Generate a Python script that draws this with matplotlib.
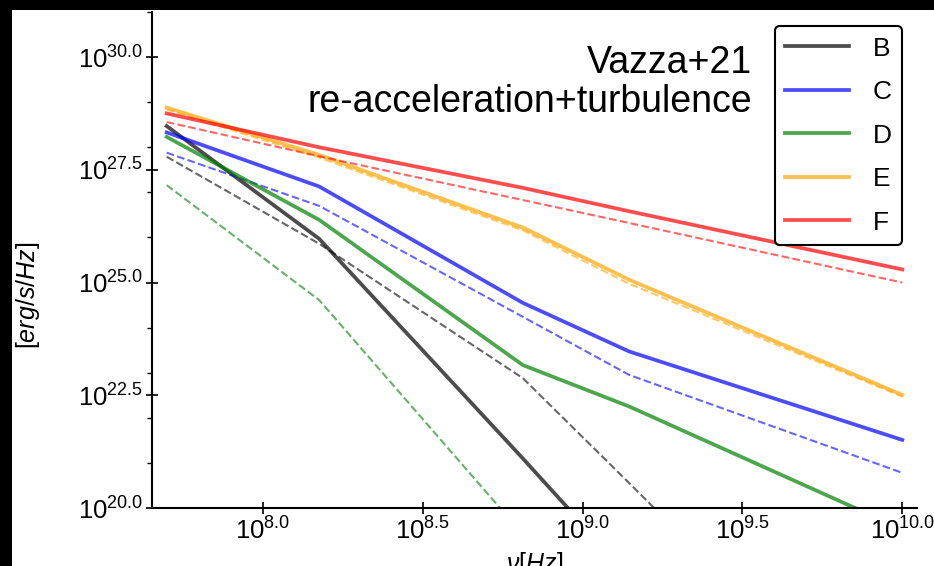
import numpy as np
import matplotlib
matplotlib.use("Agg")
import matplotlib.pyplot as plt
from matplotlib.ticker import MultipleLocator, FuncFormatter
from matplotlib.patches import Rectangle

plt.rcParams['font.family'] = ['Liberation Sans', 'DejaVu Sans']
plt.rcParams['mathtext.fontset'] = 'custom'
plt.rcParams['mathtext.rm'] = 'Liberation Sans'
plt.rcParams['mathtext.it'] = 'Liberation Sans:italic'

# observing frequencies [Hz]
freqs = [50e6, 150e6, 650e6, 1.4e9, 10e9]

# log10 radio power [erg/s/Hz], solid = re-acceleration+turbulence, dashed = re-acceleration only
labels = ['B', 'C', 'D', 'E', 'F']
colors = ['k', 'b', 'g', 'orange', 'r']

logL_solid = {
    'B': [28.47, 25.97, 21.10, 18.50, 12.00],
    'C': [28.33, 27.13, 24.55, 23.47, 21.51],
    'D': [28.23, 26.39, 23.17, 22.25, 19.53],
    'E': [28.88, 27.83, 26.22, 25.06, 22.51],
    'F': [28.75, 28.00, 27.10, 26.58, 25.29],
}
logL_dashed = {
    'B': [27.79, 25.86, 22.88, 20.55, 14.50],
    'C': [27.88, 26.70, 24.24, 22.95, 20.78],
    'D': [27.16, 24.61, 19.42, 17.50, 13.00],
    'E': [28.84, 27.77, 26.16, 24.97, 22.47],
    'F': [28.56, 27.80, 26.83, 26.32, 25.00],
}

lognu = np.log10(freqs)

fig = plt.figure(figsize=(9.34, 5.66), dpi=100, facecolor='white')
ax = fig.add_axes([152/934, 1 - 508/566, (917 - 152)/934, (508 - 12)/566])

for lab, c in zip(labels, colors):
    ax.plot(lognu, logL_solid[lab], '-', color=c, lw=2.7, alpha=0.7, label=lab)
    ax.plot(lognu, logL_dashed[lab], '--', color=c, lw=1.5, alpha=0.6)

ax.set_xlim(7.653, 10.046)
ax.set_ylim(20, 31)

fmt = FuncFormatter(lambda v, pos: r'$10^{%.1f}$' % v)
ax.xaxis.set_major_locator(MultipleLocator(0.5))
ax.yaxis.set_major_locator(MultipleLocator(2.5))
ax.yaxis.set_minor_locator(MultipleLocator(1.0))
ax.xaxis.set_major_formatter(fmt)
ax.yaxis.set_major_formatter(fmt)
ax.tick_params(which='major', direction='inout', length=9, width=1.2, labelsize=18.5, pad=2)
ax.tick_params(axis='y', which='minor', direction='out', length=3.5, width=1.0)

for s in ['top', 'right']:
    ax.spines[s].set_visible(False)
for s in ['left', 'bottom']:
    ax.spines[s].set_linewidth(1.5)

ax.set_xlabel(r'$\nu[Hz]$', fontsize=18, labelpad=4)
ax.set_ylabel(r'$[erg/s/Hz]$', fontsize=18)
ax.yaxis.set_label_coords((42 - 152)/765, (508 - 295)/496)

ax.text((752 - 152)/765, (508 - 45)/496, 'Vazza+21\nre-acceleration+turbulence',
        transform=ax.transAxes, ha='right', va='top', multialignment='right',
        fontsize=27, linespacing=1.1)

leg = ax.legend(loc='upper right', bbox_to_anchor=((902 - 152)/765, (508 - 26)/496),
                borderaxespad=0, fontsize=19, handlelength=2.4, labelspacing=0.74,
                handletextpad=0.9, fancybox=True, framealpha=1)
leg.get_frame().set_edgecolor('black')
leg.get_frame().set_linewidth(1.5)

# dark border strips along the left and top edges
fig.patches.append(Rectangle((0, 0), 12/934, 1, transform=fig.transFigure,
                             facecolor='black', edgecolor='none', zorder=10))
fig.patches.append(Rectangle((0, 1 - 10/566), 1, 10/566, transform=fig.transFigure,
                             facecolor='black', edgecolor='none', zorder=10))

fig.savefig('out.png', dpi=100, facecolor='white')
